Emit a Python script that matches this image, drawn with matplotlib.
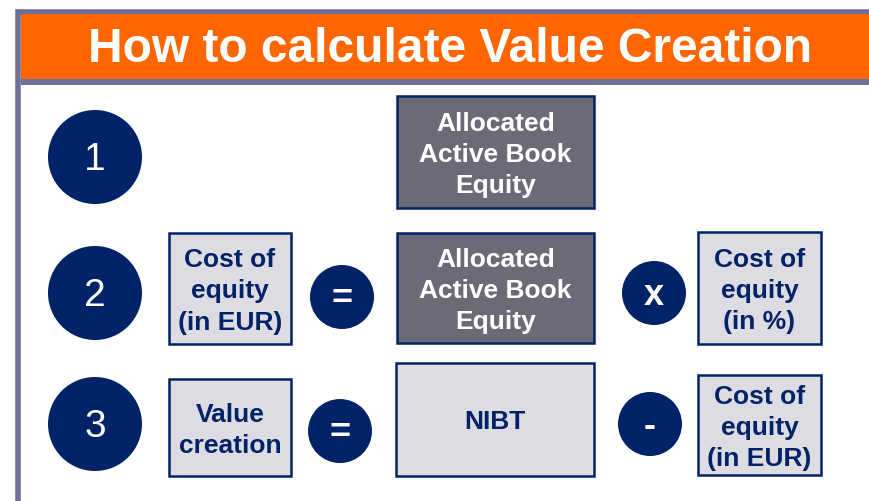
"""
How to calculate Value Creation - three step formula diagram.
"""

import matplotlib
matplotlib.use("Agg")
import matplotlib.pyplot as plt
from matplotlib.patches import Rectangle, Circle

plt.rcParams["font.family"] = ["Liberation Sans", "DejaVu Sans"]

# colours
ORANGE = "#ff6600"
FRAME = "#6e6f98"
NAVY = "#002266"
DARK_BOX = "#6b6b78"
LIGHT_BOX = "#dcdce2"

TITLE = "How to calculate Value Creation"
STEP_NUMBERS = ["1", "2", "3"]
ROW1_TERMS = ["Allocated\nActive Book\nEquity"]
ROW2_TERMS = ["Cost of\nequity\n(in EUR)", "Allocated\nActive Book\nEquity", "Cost of\nequity\n(in %)"]
ROW2_OPS = ["=", "x"]
ROW3_TERMS = ["Value\ncreation", "NIBT", "Cost of\nequity\n(in EUR)"]
ROW3_OPS = ["=", "-"]

fig = plt.figure(figsize=(8.7, 5.02), dpi=100)
ax = fig.add_axes([0, 0, 1, 1])
ax.set_xlim(0, 870)
ax.set_ylim(502, 0)
ax.axis("off")

# outer frame + title banner
ax.add_patch(Rectangle((18.5, 12.5), 900, 600, facecolor="white",
                       edgecolor=FRAME, linewidth=4, zorder=1))
ax.add_patch(Rectangle((21, 15), 900, 65, facecolor=ORANGE, edgecolor="none", zorder=2))
ax.add_patch(Rectangle((21, 80), 900, 6, facecolor=FRAME, edgecolor="none", zorder=2))
ax.text(450, 50, TITLE, color="white", fontsize=34.5, fontweight="bold",
        ha="center", va="center", zorder=3)


def box(x0, y0, x1, y1, label, dark=False):
    ax.add_patch(Rectangle((x0, y0), x1 - x0, y1 - y0,
                           facecolor=DARK_BOX if dark else LIGHT_BOX,
                           edgecolor=NAVY, linewidth=1.8, zorder=3))
    ax.text((x0 + x1) / 2, (y0 + y1) / 2 + 2, label,
            color="white" if dark else NAVY, fontsize=19, fontweight="bold",
            ha="center", va="center", linespacing=1.38, zorder=4)


def bubble(cx, cy, r, label, size, bold=False):
    ax.add_patch(Circle((cx, cy), r, facecolor=NAVY, edgecolor="none", zorder=3))
    ax.text(cx, cy + 2, label, color="white", fontsize=size,
            fontweight="bold" if bold else "normal",
            ha="center", va="center", zorder=4)


# step numbers
for (cy, num) in zip([158, 294, 425], STEP_NUMBERS):
    bubble(95, cy, 47, num, 28)

# row 1
box(397, 97, 594, 209, ROW1_TERMS[0], dark=True)

# row 2
box(169, 234, 291, 345, ROW2_TERMS[0])
bubble(342, 298, 32, ROW2_OPS[0], 26, bold=True)
box(397, 234, 594, 344, ROW2_TERMS[1], dark=True)
bubble(654, 294, 32, ROW2_OPS[1], 26, bold=True)
box(698, 233, 821, 345, ROW2_TERMS[2])

# row 3
box(169, 380, 291, 477, ROW3_TERMS[0])
bubble(340, 432, 32, ROW3_OPS[0], 26, bold=True)
box(396, 364, 594, 477, ROW3_TERMS[1])
bubble(650, 425, 32, ROW3_OPS[1], 26, bold=True)
box(698, 376, 821, 476, ROW3_TERMS[2])

fig.savefig("out.png", dpi=100)
